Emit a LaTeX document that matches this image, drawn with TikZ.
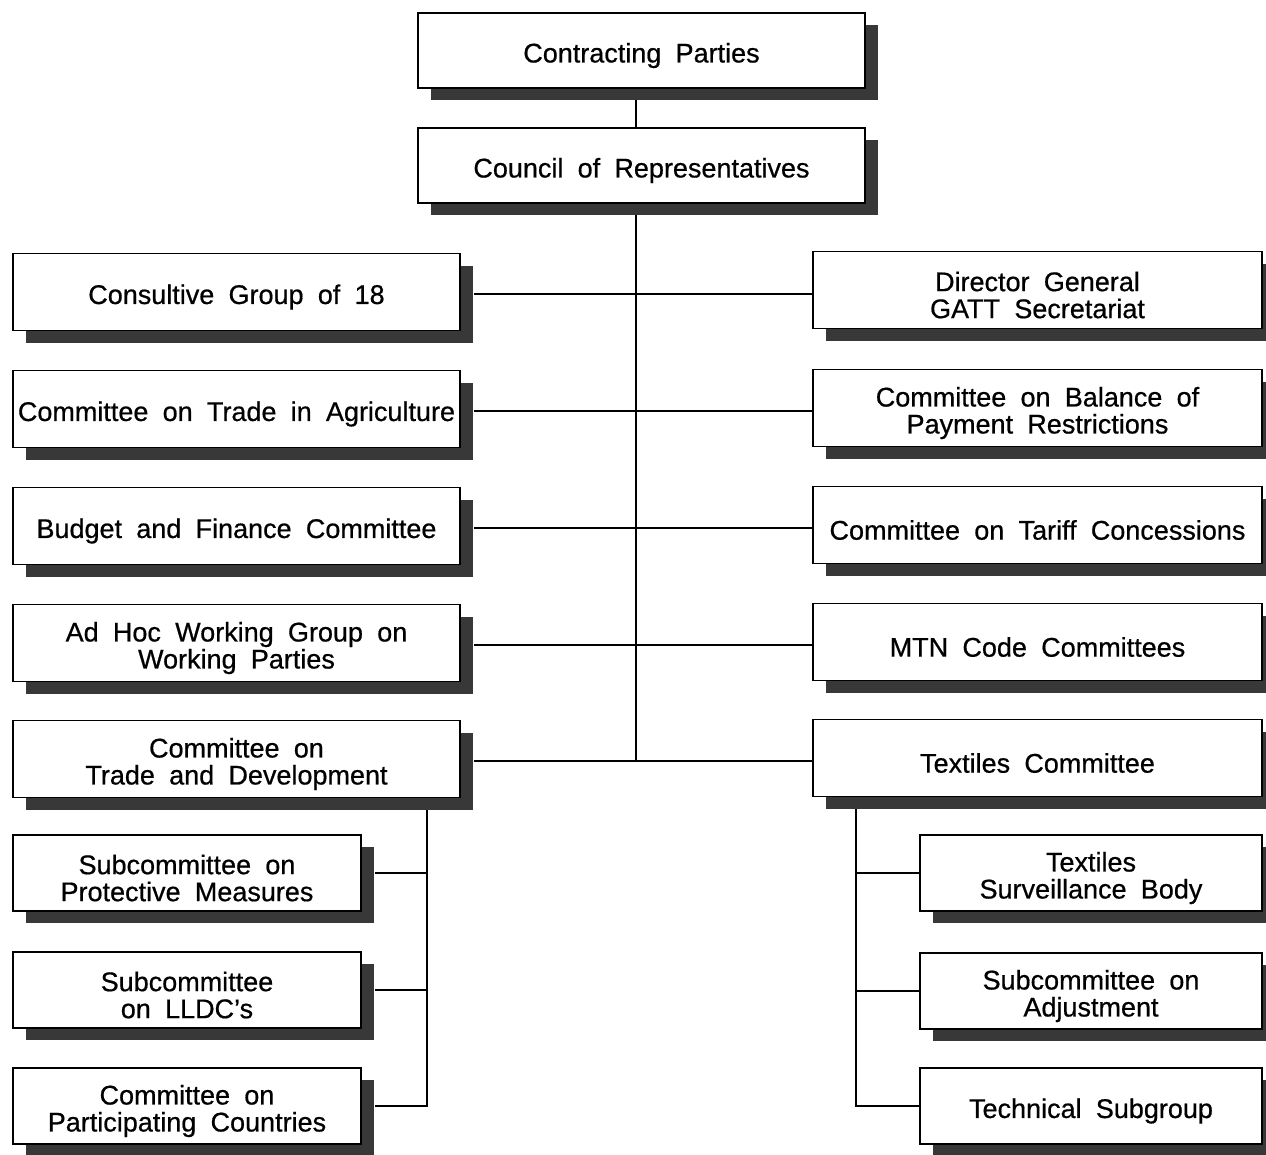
\documentclass[tikz,border=0pt]{standalone}
\usepackage{fontspec}
\setmainfont{Liberation Sans}[WordSpace=1.9,FakeBold=0.6]
\usetikzlibrary{shadows}
\pgfdeclarelayer{background}
\pgfsetlayers{background,main}
\begin{document}
\begin{tikzpicture}[x=1pt,y=-1pt,
  txt/.style={align=center, inner sep=0pt, yshift=-5pt,
    font=\fontsize{27}{27}\selectfont},
  box/.style={draw, line width=1.8pt, fill=white, inner sep=0pt,
    label={[txt]center:{#1}},
    drop shadow={shadow xshift=13pt, shadow yshift=-12pt, fill=black!78, opacity=1}},
  topbox/.style={box={#1}, minimum width=447pt, minimum height=75pt},
  lbox/.style={box={#1}, minimum width=447pt, minimum height=77pt},
  rbox/.style={box={#1}, minimum width=449pt, minimum height=77pt},
  slbox/.style={box={#1}, minimum width=348pt, minimum height=76pt},
  srbox/.style={box={#1}, minimum width=342pt, minimum height=76pt},
  conn/.style={line width=1.8pt}]
\useasboundingbox (0,0) rectangle (1266,1154);

\node[topbox={Contracting Parties}] (cp) at (641.5,50.5) {};
\node[topbox={Council of Representatives}] (cr) at (641.5,165.5) {};

\node[lbox={Consultive Group of 18}] (cg) at (236.5,292) {};
\node[lbox={Committee on Trade in Agriculture}] (ag) at (236.5,409) {};
\node[lbox={Budget and Finance Committee}] (bf) at (236.5,526) {};
\node[lbox={Ad Hoc Working Group on\\Working Parties}] (ah) at (236.5,643) {};
\node[lbox={Committee on\\Trade and Development}] (td) at (236.5,759) {};

\node[rbox={Director General\\GATT Secretariat}] (dg) at (1037.5,290) {};
\node[rbox={Committee on Balance of\\Payment Restrictions}] (bp) at (1037.5,408) {};
\node[rbox={Committee on Tariff Concessions}] (tc) at (1037.5,525) {};
\node[rbox={MTN Code Committees}] (mtn) at (1037.5,642) {};
\node[rbox={Textiles Committee}] (tx) at (1037.5,758) {};

\node[slbox={Subcommittee on\\Protective Measures}] (pm) at (187,873) {};
\node[slbox={Subcommittee\\on LLDC's}] (ll) at (187,990) {};
\node[slbox={Committee on\\Participating Countries}] (pc) at (187,1106) {};

\node[srbox={Textiles\\Surveillance Body}] (sb) at (1091,873) {};
\node[srbox={Subcommittee on\\Adjustment}] (sa) at (1091,991) {};
\node[srbox={Technical Subgroup}] (ts) at (1091,1106) {};

\coordinate (ct) at (636,88);
\coordinate (cb) at (636,761);
\coordinate (lt) at (427,797);
\coordinate (rt) at (856,797);

\begin{pgfonlayer}{background}
\fill[white] (0,0) rectangle (1266,1154);
\draw[conn] (ct) -- (ct |- cr.north);
\draw[conn] (ct |- cr.south) -- (cb);
\draw[conn] ([xshift=13pt,yshift=-2pt]cg.east) -- ([yshift=-2pt]dg.west |- cg.east);
\draw[conn] ([xshift=13pt,yshift=-2pt]ag.east) -- ([yshift=-2pt]bp.west |- ag.east);
\draw[conn] ([xshift=13pt,yshift=-2pt]bf.east) -- ([yshift=-2pt]tc.west |- bf.east);
\draw[conn] ([xshift=13pt,yshift=-2pt]ah.east) -- ([yshift=-2pt]mtn.west |- ah.east);
\draw[conn] ([xshift=13pt]td.east |- cb) -- (tx.west |- cb);
\draw[conn] (lt) |- ([xshift=13pt]pc.east);
\draw[conn] (lt |- pm.east) -- ([xshift=13pt]pm.east);
\draw[conn] (lt |- ll.east) -- ([xshift=13pt]ll.east);
\draw[conn] (rt) |- (ts.west);
\draw[conn] (rt |- sb.west) -- (sb.west);
\draw[conn] (rt |- sa.west) -- (sa.west);
\end{pgfonlayer}
\end{tikzpicture}
\end{document}
